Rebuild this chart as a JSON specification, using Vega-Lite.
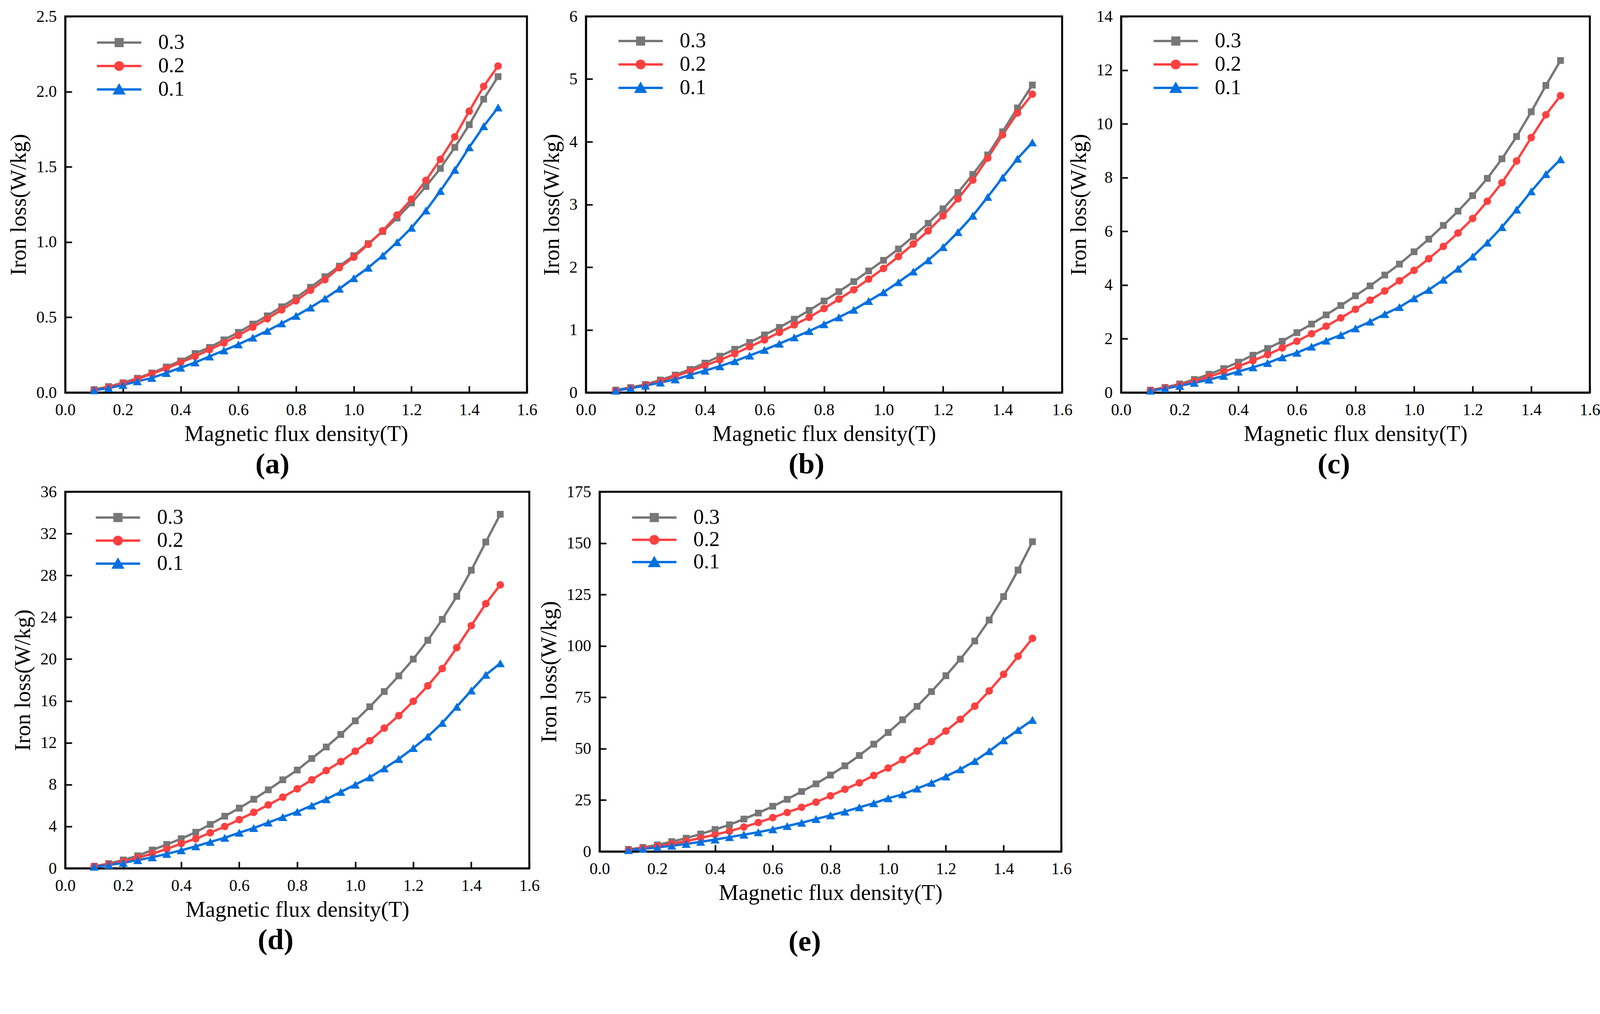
{
  "$schema": "https://vega.github.io/schema/vega-lite/v6.json",
  "background": "white",
  "padding": {"left": 17, "top": 18, "right": 18, "bottom": 20},
  "data": {
    "values": [
      {"panel":"a","series":"0.3","B":0.1,"loss":0.02},{"panel":"a","series":"0.3","B":0.15,"loss":0.04},{"panel":"a","series":"0.3","B":0.2,"loss":0.065},{"panel":"a","series":"0.3","B":0.25,"loss":0.095},{"panel":"a","series":"0.3","B":0.3,"loss":0.13},{"panel":"a","series":"0.3","B":0.35,"loss":0.17},{"panel":"a","series":"0.3","B":0.4,"loss":0.21},{"panel":"a","series":"0.3","B":0.45,"loss":0.26},{"panel":"a","series":"0.3","B":0.5,"loss":0.3},{"panel":"a","series":"0.3","B":0.55,"loss":0.35},{"panel":"a","series":"0.3","B":0.6,"loss":0.4},{"panel":"a","series":"0.3","B":0.65,"loss":0.455},{"panel":"a","series":"0.3","B":0.7,"loss":0.51},{"panel":"a","series":"0.3","B":0.75,"loss":0.57},{"panel":"a","series":"0.3","B":0.8,"loss":0.63},{"panel":"a","series":"0.3","B":0.85,"loss":0.7},{"panel":"a","series":"0.3","B":0.9,"loss":0.77},{"panel":"a","series":"0.3","B":0.95,"loss":0.84},{"panel":"a","series":"0.3","B":1.0,"loss":0.91},{"panel":"a","series":"0.3","B":1.05,"loss":0.99},{"panel":"a","series":"0.3","B":1.1,"loss":1.07},{"panel":"a","series":"0.3","B":1.15,"loss":1.16},{"panel":"a","series":"0.3","B":1.2,"loss":1.26},{"panel":"a","series":"0.3","B":1.25,"loss":1.37},{"panel":"a","series":"0.3","B":1.3,"loss":1.49},{"panel":"a","series":"0.3","B":1.35,"loss":1.63},{"panel":"a","series":"0.3","B":1.4,"loss":1.78},{"panel":"a","series":"0.3","B":1.45,"loss":1.95},{"panel":"a","series":"0.3","B":1.5,"loss":2.1},
      {"panel":"a","series":"0.2","B":0.1,"loss":0.015},{"panel":"a","series":"0.2","B":0.15,"loss":0.035},{"panel":"a","series":"0.2","B":0.2,"loss":0.06},{"panel":"a","series":"0.2","B":0.25,"loss":0.09},{"panel":"a","series":"0.2","B":0.3,"loss":0.125},{"panel":"a","series":"0.2","B":0.35,"loss":0.16},{"panel":"a","series":"0.2","B":0.4,"loss":0.2},{"panel":"a","series":"0.2","B":0.45,"loss":0.24},{"panel":"a","series":"0.2","B":0.5,"loss":0.285},{"panel":"a","series":"0.2","B":0.55,"loss":0.33},{"panel":"a","series":"0.2","B":0.6,"loss":0.38},{"panel":"a","series":"0.2","B":0.65,"loss":0.435},{"panel":"a","series":"0.2","B":0.7,"loss":0.49},{"panel":"a","series":"0.2","B":0.75,"loss":0.55},{"panel":"a","series":"0.2","B":0.8,"loss":0.61},{"panel":"a","series":"0.2","B":0.85,"loss":0.68},{"panel":"a","series":"0.2","B":0.9,"loss":0.75},{"panel":"a","series":"0.2","B":0.95,"loss":0.83},{"panel":"a","series":"0.2","B":1.0,"loss":0.9},{"panel":"a","series":"0.2","B":1.05,"loss":0.985},{"panel":"a","series":"0.2","B":1.1,"loss":1.075},{"panel":"a","series":"0.2","B":1.15,"loss":1.18},{"panel":"a","series":"0.2","B":1.2,"loss":1.285},{"panel":"a","series":"0.2","B":1.25,"loss":1.41},{"panel":"a","series":"0.2","B":1.3,"loss":1.55},{"panel":"a","series":"0.2","B":1.35,"loss":1.7},{"panel":"a","series":"0.2","B":1.4,"loss":1.87},{"panel":"a","series":"0.2","B":1.45,"loss":2.035},{"panel":"a","series":"0.2","B":1.5,"loss":2.17},
      {"panel":"a","series":"0.1","B":0.1,"loss":0.015},{"panel":"a","series":"0.1","B":0.15,"loss":0.03},{"panel":"a","series":"0.1","B":0.2,"loss":0.05},{"panel":"a","series":"0.1","B":0.25,"loss":0.075},{"panel":"a","series":"0.1","B":0.3,"loss":0.097},{"panel":"a","series":"0.1","B":0.35,"loss":0.13},{"panel":"a","series":"0.1","B":0.4,"loss":0.165},{"panel":"a","series":"0.1","B":0.45,"loss":0.2},{"panel":"a","series":"0.1","B":0.5,"loss":0.24},{"panel":"a","series":"0.1","B":0.55,"loss":0.28},{"panel":"a","series":"0.1","B":0.6,"loss":0.32},{"panel":"a","series":"0.1","B":0.65,"loss":0.365},{"panel":"a","series":"0.1","B":0.7,"loss":0.41},{"panel":"a","series":"0.1","B":0.75,"loss":0.46},{"panel":"a","series":"0.1","B":0.8,"loss":0.51},{"panel":"a","series":"0.1","B":0.85,"loss":0.565},{"panel":"a","series":"0.1","B":0.9,"loss":0.625},{"panel":"a","series":"0.1","B":0.95,"loss":0.69},{"panel":"a","series":"0.1","B":1.0,"loss":0.76},{"panel":"a","series":"0.1","B":1.05,"loss":0.83},{"panel":"a","series":"0.1","B":1.1,"loss":0.91},{"panel":"a","series":"0.1","B":1.15,"loss":1.0},{"panel":"a","series":"0.1","B":1.2,"loss":1.095},{"panel":"a","series":"0.1","B":1.25,"loss":1.21},{"panel":"a","series":"0.1","B":1.3,"loss":1.34},{"panel":"a","series":"0.1","B":1.35,"loss":1.48},{"panel":"a","series":"0.1","B":1.4,"loss":1.63},{"panel":"a","series":"0.1","B":1.45,"loss":1.77},{"panel":"a","series":"0.1","B":1.5,"loss":1.895},
      {"panel":"b","series":"0.3","B":0.1,"loss":0.04},{"panel":"b","series":"0.3","B":0.15,"loss":0.08},{"panel":"b","series":"0.3","B":0.2,"loss":0.13},{"panel":"b","series":"0.3","B":0.25,"loss":0.2},{"panel":"b","series":"0.3","B":0.3,"loss":0.28},{"panel":"b","series":"0.3","B":0.35,"loss":0.37},{"panel":"b","series":"0.3","B":0.4,"loss":0.47},{"panel":"b","series":"0.3","B":0.45,"loss":0.58},{"panel":"b","series":"0.3","B":0.5,"loss":0.69},{"panel":"b","series":"0.3","B":0.55,"loss":0.8},{"panel":"b","series":"0.3","B":0.6,"loss":0.92},{"panel":"b","series":"0.3","B":0.65,"loss":1.04},{"panel":"b","series":"0.3","B":0.7,"loss":1.17},{"panel":"b","series":"0.3","B":0.75,"loss":1.31},{"panel":"b","series":"0.3","B":0.8,"loss":1.46},{"panel":"b","series":"0.3","B":0.85,"loss":1.61},{"panel":"b","series":"0.3","B":0.9,"loss":1.77},{"panel":"b","series":"0.3","B":0.95,"loss":1.94},{"panel":"b","series":"0.3","B":1.0,"loss":2.11},{"panel":"b","series":"0.3","B":1.05,"loss":2.29},{"panel":"b","series":"0.3","B":1.1,"loss":2.49},{"panel":"b","series":"0.3","B":1.15,"loss":2.7},{"panel":"b","series":"0.3","B":1.2,"loss":2.93},{"panel":"b","series":"0.3","B":1.25,"loss":3.19},{"panel":"b","series":"0.3","B":1.3,"loss":3.48},{"panel":"b","series":"0.3","B":1.35,"loss":3.79},{"panel":"b","series":"0.3","B":1.4,"loss":4.16},{"panel":"b","series":"0.3","B":1.45,"loss":4.54},{"panel":"b","series":"0.3","B":1.5,"loss":4.905},
      {"panel":"b","series":"0.2","B":0.1,"loss":0.03},{"panel":"b","series":"0.2","B":0.15,"loss":0.07},{"panel":"b","series":"0.2","B":0.2,"loss":0.12},{"panel":"b","series":"0.2","B":0.25,"loss":0.18},{"panel":"b","series":"0.2","B":0.3,"loss":0.26},{"panel":"b","series":"0.2","B":0.35,"loss":0.34},{"panel":"b","series":"0.2","B":0.4,"loss":0.43},{"panel":"b","series":"0.2","B":0.45,"loss":0.52},{"panel":"b","series":"0.2","B":0.5,"loss":0.62},{"panel":"b","series":"0.2","B":0.55,"loss":0.73},{"panel":"b","series":"0.2","B":0.6,"loss":0.84},{"panel":"b","series":"0.2","B":0.65,"loss":0.96},{"panel":"b","series":"0.2","B":0.7,"loss":1.08},{"panel":"b","series":"0.2","B":0.75,"loss":1.2},{"panel":"b","series":"0.2","B":0.8,"loss":1.34},{"panel":"b","series":"0.2","B":0.85,"loss":1.49},{"panel":"b","series":"0.2","B":0.9,"loss":1.64},{"panel":"b","series":"0.2","B":0.95,"loss":1.81},{"panel":"b","series":"0.2","B":1.0,"loss":1.98},{"panel":"b","series":"0.2","B":1.05,"loss":2.17},{"panel":"b","series":"0.2","B":1.1,"loss":2.37},{"panel":"b","series":"0.2","B":1.15,"loss":2.58},{"panel":"b","series":"0.2","B":1.2,"loss":2.82},{"panel":"b","series":"0.2","B":1.25,"loss":3.09},{"panel":"b","series":"0.2","B":1.3,"loss":3.39},{"panel":"b","series":"0.2","B":1.35,"loss":3.74},{"panel":"b","series":"0.2","B":1.4,"loss":4.11},{"panel":"b","series":"0.2","B":1.45,"loss":4.46},{"panel":"b","series":"0.2","B":1.5,"loss":4.76},
      {"panel":"b","series":"0.1","B":0.1,"loss":0.03},{"panel":"b","series":"0.1","B":0.15,"loss":0.07},{"panel":"b","series":"0.1","B":0.2,"loss":0.11},{"panel":"b","series":"0.1","B":0.25,"loss":0.16},{"panel":"b","series":"0.1","B":0.3,"loss":0.21},{"panel":"b","series":"0.1","B":0.35,"loss":0.28},{"panel":"b","series":"0.1","B":0.4,"loss":0.35},{"panel":"b","series":"0.1","B":0.45,"loss":0.42},{"panel":"b","series":"0.1","B":0.5,"loss":0.5},{"panel":"b","series":"0.1","B":0.55,"loss":0.59},{"panel":"b","series":"0.1","B":0.6,"loss":0.68},{"panel":"b","series":"0.1","B":0.65,"loss":0.78},{"panel":"b","series":"0.1","B":0.7,"loss":0.88},{"panel":"b","series":"0.1","B":0.75,"loss":0.98},{"panel":"b","series":"0.1","B":0.8,"loss":1.09},{"panel":"b","series":"0.1","B":0.85,"loss":1.2},{"panel":"b","series":"0.1","B":0.9,"loss":1.32},{"panel":"b","series":"0.1","B":0.95,"loss":1.46},{"panel":"b","series":"0.1","B":1.0,"loss":1.6},{"panel":"b","series":"0.1","B":1.05,"loss":1.76},{"panel":"b","series":"0.1","B":1.1,"loss":1.93},{"panel":"b","series":"0.1","B":1.15,"loss":2.11},{"panel":"b","series":"0.1","B":1.2,"loss":2.32},{"panel":"b","series":"0.1","B":1.25,"loss":2.56},{"panel":"b","series":"0.1","B":1.3,"loss":2.82},{"panel":"b","series":"0.1","B":1.35,"loss":3.12},{"panel":"b","series":"0.1","B":1.4,"loss":3.43},{"panel":"b","series":"0.1","B":1.45,"loss":3.73},{"panel":"b","series":"0.1","B":1.5,"loss":3.99},
      {"panel":"c","series":"0.3","B":0.1,"loss":0.09},{"panel":"c","series":"0.3","B":0.15,"loss":0.19},{"panel":"c","series":"0.3","B":0.2,"loss":0.32},{"panel":"c","series":"0.3","B":0.25,"loss":0.49},{"panel":"c","series":"0.3","B":0.3,"loss":0.68},{"panel":"c","series":"0.3","B":0.35,"loss":0.89},{"panel":"c","series":"0.3","B":0.4,"loss":1.13},{"panel":"c","series":"0.3","B":0.45,"loss":1.39},{"panel":"c","series":"0.3","B":0.5,"loss":1.64},{"panel":"c","series":"0.3","B":0.55,"loss":1.91},{"panel":"c","series":"0.3","B":0.6,"loss":2.23},{"panel":"c","series":"0.3","B":0.65,"loss":2.55},{"panel":"c","series":"0.3","B":0.7,"loss":2.89},{"panel":"c","series":"0.3","B":0.75,"loss":3.24},{"panel":"c","series":"0.3","B":0.8,"loss":3.6},{"panel":"c","series":"0.3","B":0.85,"loss":3.97},{"panel":"c","series":"0.3","B":0.9,"loss":4.375},{"panel":"c","series":"0.3","B":0.95,"loss":4.78},{"panel":"c","series":"0.3","B":1.0,"loss":5.24},{"panel":"c","series":"0.3","B":1.05,"loss":5.71},{"panel":"c","series":"0.3","B":1.1,"loss":6.22},{"panel":"c","series":"0.3","B":1.15,"loss":6.75},{"panel":"c","series":"0.3","B":1.2,"loss":7.33},{"panel":"c","series":"0.3","B":1.25,"loss":7.97},{"panel":"c","series":"0.3","B":1.3,"loss":8.7},{"panel":"c","series":"0.3","B":1.35,"loss":9.53},{"panel":"c","series":"0.3","B":1.4,"loss":10.45},{"panel":"c","series":"0.3","B":1.45,"loss":11.43},{"panel":"c","series":"0.3","B":1.5,"loss":12.36},
      {"panel":"c","series":"0.2","B":0.1,"loss":0.08},{"panel":"c","series":"0.2","B":0.15,"loss":0.17},{"panel":"c","series":"0.2","B":0.2,"loss":0.28},{"panel":"c","series":"0.2","B":0.25,"loss":0.42},{"panel":"c","series":"0.2","B":0.3,"loss":0.59},{"panel":"c","series":"0.2","B":0.35,"loss":0.77},{"panel":"c","series":"0.2","B":0.4,"loss":0.97},{"panel":"c","series":"0.2","B":0.45,"loss":1.19},{"panel":"c","series":"0.2","B":0.5,"loss":1.41},{"panel":"c","series":"0.2","B":0.55,"loss":1.66},{"panel":"c","series":"0.2","B":0.6,"loss":1.91},{"panel":"c","series":"0.2","B":0.65,"loss":2.19},{"panel":"c","series":"0.2","B":0.7,"loss":2.47},{"panel":"c","series":"0.2","B":0.75,"loss":2.78},{"panel":"c","series":"0.2","B":0.8,"loss":3.1},{"panel":"c","series":"0.2","B":0.85,"loss":3.44},{"panel":"c","series":"0.2","B":0.9,"loss":3.78},{"panel":"c","series":"0.2","B":0.95,"loss":4.16},{"panel":"c","series":"0.2","B":1.0,"loss":4.55},{"panel":"c","series":"0.2","B":1.05,"loss":4.98},{"panel":"c","series":"0.2","B":1.1,"loss":5.44},{"panel":"c","series":"0.2","B":1.15,"loss":5.94},{"panel":"c","series":"0.2","B":1.2,"loss":6.48},{"panel":"c","series":"0.2","B":1.25,"loss":7.12},{"panel":"c","series":"0.2","B":1.3,"loss":7.81},{"panel":"c","series":"0.2","B":1.35,"loss":8.62},{"panel":"c","series":"0.2","B":1.4,"loss":9.49},{"panel":"c","series":"0.2","B":1.45,"loss":10.34},{"panel":"c","series":"0.2","B":1.5,"loss":11.05},
      {"panel":"c","series":"0.1","B":0.1,"loss":0.07},{"panel":"c","series":"0.1","B":0.15,"loss":0.15},{"panel":"c","series":"0.1","B":0.2,"loss":0.25},{"panel":"c","series":"0.1","B":0.25,"loss":0.36},{"panel":"c","series":"0.1","B":0.3,"loss":0.48},{"panel":"c","series":"0.1","B":0.35,"loss":0.62},{"panel":"c","series":"0.1","B":0.4,"loss":0.78},{"panel":"c","series":"0.1","B":0.45,"loss":0.94},{"panel":"c","series":"0.1","B":0.5,"loss":1.1},{"panel":"c","series":"0.1","B":0.55,"loss":1.31},{"panel":"c","series":"0.1","B":0.6,"loss":1.48},{"panel":"c","series":"0.1","B":0.65,"loss":1.71},{"panel":"c","series":"0.1","B":0.7,"loss":1.93},{"panel":"c","series":"0.1","B":0.75,"loss":2.14},{"panel":"c","series":"0.1","B":0.8,"loss":2.39},{"panel":"c","series":"0.1","B":0.85,"loss":2.64},{"panel":"c","series":"0.1","B":0.9,"loss":2.92},{"panel":"c","series":"0.1","B":0.95,"loss":3.18},{"panel":"c","series":"0.1","B":1.0,"loss":3.51},{"panel":"c","series":"0.1","B":1.05,"loss":3.82},{"panel":"c","series":"0.1","B":1.1,"loss":4.2},{"panel":"c","series":"0.1","B":1.15,"loss":4.61},{"panel":"c","series":"0.1","B":1.2,"loss":5.06},{"panel":"c","series":"0.1","B":1.25,"loss":5.58},{"panel":"c","series":"0.1","B":1.3,"loss":6.16},{"panel":"c","series":"0.1","B":1.35,"loss":6.81},{"panel":"c","series":"0.1","B":1.4,"loss":7.49},{"panel":"c","series":"0.1","B":1.45,"loss":8.13},{"panel":"c","series":"0.1","B":1.5,"loss":8.68},
      {"panel":"d","series":"0.3","B":0.1,"loss":0.2},{"panel":"d","series":"0.3","B":0.15,"loss":0.45},{"panel":"d","series":"0.3","B":0.2,"loss":0.8},{"panel":"d","series":"0.3","B":0.25,"loss":1.2},{"panel":"d","series":"0.3","B":0.3,"loss":1.75},{"panel":"d","series":"0.3","B":0.35,"loss":2.28},{"panel":"d","series":"0.3","B":0.4,"loss":2.83},{"panel":"d","series":"0.3","B":0.45,"loss":3.45},{"panel":"d","series":"0.3","B":0.5,"loss":4.2},{"panel":"d","series":"0.3","B":0.55,"loss":4.98},{"panel":"d","series":"0.3","B":0.6,"loss":5.75},{"panel":"d","series":"0.3","B":0.65,"loss":6.6},{"panel":"d","series":"0.3","B":0.7,"loss":7.5},{"panel":"d","series":"0.3","B":0.75,"loss":8.46},{"panel":"d","series":"0.3","B":0.8,"loss":9.4},{"panel":"d","series":"0.3","B":0.85,"loss":10.5},{"panel":"d","series":"0.3","B":0.9,"loss":11.6},{"panel":"d","series":"0.3","B":0.95,"loss":12.8},{"panel":"d","series":"0.3","B":1.0,"loss":14.1},{"panel":"d","series":"0.3","B":1.05,"loss":15.45},{"panel":"d","series":"0.3","B":1.1,"loss":16.9},{"panel":"d","series":"0.3","B":1.15,"loss":18.4},{"panel":"d","series":"0.3","B":1.2,"loss":20.0},{"panel":"d","series":"0.3","B":1.25,"loss":21.8},{"panel":"d","series":"0.3","B":1.3,"loss":23.8},{"panel":"d","series":"0.3","B":1.35,"loss":26.0},{"panel":"d","series":"0.3","B":1.4,"loss":28.5},{"panel":"d","series":"0.3","B":1.45,"loss":31.2},{"panel":"d","series":"0.3","B":1.5,"loss":33.85},
      {"panel":"d","series":"0.2","B":0.1,"loss":0.18},{"panel":"d","series":"0.2","B":0.15,"loss":0.38},{"panel":"d","series":"0.2","B":0.2,"loss":0.65},{"panel":"d","series":"0.2","B":0.25,"loss":1.0},{"panel":"d","series":"0.2","B":0.3,"loss":1.4},{"panel":"d","series":"0.2","B":0.35,"loss":1.85},{"panel":"d","series":"0.2","B":0.4,"loss":2.37},{"panel":"d","series":"0.2","B":0.45,"loss":2.83},{"panel":"d","series":"0.2","B":0.5,"loss":3.4},{"panel":"d","series":"0.2","B":0.55,"loss":4.0},{"panel":"d","series":"0.2","B":0.6,"loss":4.65},{"panel":"d","series":"0.2","B":0.65,"loss":5.35},{"panel":"d","series":"0.2","B":0.7,"loss":6.06},{"panel":"d","series":"0.2","B":0.75,"loss":6.8},{"panel":"d","series":"0.2","B":0.8,"loss":7.6},{"panel":"d","series":"0.2","B":0.85,"loss":8.46},{"panel":"d","series":"0.2","B":0.9,"loss":9.35},{"panel":"d","series":"0.2","B":0.95,"loss":10.2},{"panel":"d","series":"0.2","B":1.0,"loss":11.2},{"panel":"d","series":"0.2","B":1.05,"loss":12.2},{"panel":"d","series":"0.2","B":1.1,"loss":13.4},{"panel":"d","series":"0.2","B":1.15,"loss":14.6},{"panel":"d","series":"0.2","B":1.2,"loss":15.97},{"panel":"d","series":"0.2","B":1.25,"loss":17.45},{"panel":"d","series":"0.2","B":1.3,"loss":19.1},{"panel":"d","series":"0.2","B":1.35,"loss":21.1},{"panel":"d","series":"0.2","B":1.4,"loss":23.2},{"panel":"d","series":"0.2","B":1.45,"loss":25.3},{"panel":"d","series":"0.2","B":1.5,"loss":27.1},
      {"panel":"d","series":"0.1","B":0.1,"loss":0.15},{"panel":"d","series":"0.1","B":0.15,"loss":0.32},{"panel":"d","series":"0.1","B":0.2,"loss":0.52},{"panel":"d","series":"0.1","B":0.25,"loss":0.78},{"panel":"d","series":"0.1","B":0.3,"loss":1.05},{"panel":"d","series":"0.1","B":0.35,"loss":1.38},{"panel":"d","series":"0.1","B":0.4,"loss":1.72},{"panel":"d","series":"0.1","B":0.45,"loss":2.1},{"panel":"d","series":"0.1","B":0.5,"loss":2.52},{"panel":"d","series":"0.1","B":0.55,"loss":2.92},{"panel":"d","series":"0.1","B":0.6,"loss":3.4},{"panel":"d","series":"0.1","B":0.65,"loss":3.85},{"panel":"d","series":"0.1","B":0.7,"loss":4.37},{"panel":"d","series":"0.1","B":0.75,"loss":4.9},{"panel":"d","series":"0.1","B":0.8,"loss":5.4},{"panel":"d","series":"0.1","B":0.85,"loss":6.0},{"panel":"d","series":"0.1","B":0.9,"loss":6.6},{"panel":"d","series":"0.1","B":0.95,"loss":7.3},{"panel":"d","series":"0.1","B":1.0,"loss":8.0},{"panel":"d","series":"0.1","B":1.05,"loss":8.7},{"panel":"d","series":"0.1","B":1.1,"loss":9.55},{"panel":"d","series":"0.1","B":1.15,"loss":10.45},{"panel":"d","series":"0.1","B":1.2,"loss":11.5},{"panel":"d","series":"0.1","B":1.25,"loss":12.6},{"panel":"d","series":"0.1","B":1.3,"loss":13.9},{"panel":"d","series":"0.1","B":1.35,"loss":15.45},{"panel":"d","series":"0.1","B":1.4,"loss":17.0},{"panel":"d","series":"0.1","B":1.45,"loss":18.5},{"panel":"d","series":"0.1","B":1.5,"loss":19.6},
      {"panel":"e","series":"0.3","B":0.1,"loss":1.0},{"panel":"e","series":"0.3","B":0.15,"loss":2.0},{"panel":"e","series":"0.3","B":0.2,"loss":3.2},{"panel":"e","series":"0.3","B":0.25,"loss":4.8},{"panel":"e","series":"0.3","B":0.3,"loss":6.5},{"panel":"e","series":"0.3","B":0.35,"loss":8.5},{"panel":"e","series":"0.3","B":0.4,"loss":10.7},{"panel":"e","series":"0.3","B":0.45,"loss":13.0},{"panel":"e","series":"0.3","B":0.5,"loss":15.8},{"panel":"e","series":"0.3","B":0.55,"loss":18.7},{"panel":"e","series":"0.3","B":0.6,"loss":22.0},{"panel":"e","series":"0.3","B":0.65,"loss":25.4},{"panel":"e","series":"0.3","B":0.7,"loss":29.2},{"panel":"e","series":"0.3","B":0.75,"loss":32.9},{"panel":"e","series":"0.3","B":0.8,"loss":37.2},{"panel":"e","series":"0.3","B":0.85,"loss":41.7},{"panel":"e","series":"0.3","B":0.9,"loss":46.7},{"panel":"e","series":"0.3","B":0.95,"loss":52.2},{"panel":"e","series":"0.3","B":1.0,"loss":57.9},{"panel":"e","series":"0.3","B":1.05,"loss":64.1},{"panel":"e","series":"0.3","B":1.1,"loss":70.6},{"panel":"e","series":"0.3","B":1.15,"loss":77.8},{"panel":"e","series":"0.3","B":1.2,"loss":85.5},{"panel":"e","series":"0.3","B":1.25,"loss":93.6},{"panel":"e","series":"0.3","B":1.3,"loss":102.4},{"panel":"e","series":"0.3","B":1.35,"loss":112.6},{"panel":"e","series":"0.3","B":1.4,"loss":124.0},{"panel":"e","series":"0.3","B":1.45,"loss":136.9},{"panel":"e","series":"0.3","B":1.5,"loss":150.7},
      {"panel":"e","series":"0.2","B":0.1,"loss":0.8},{"panel":"e","series":"0.2","B":0.15,"loss":1.6},{"panel":"e","series":"0.2","B":0.2,"loss":2.5},{"panel":"e","series":"0.2","B":0.25,"loss":3.7},{"panel":"e","series":"0.2","B":0.3,"loss":5.0},{"panel":"e","series":"0.2","B":0.35,"loss":6.6},{"panel":"e","series":"0.2","B":0.4,"loss":8.2},{"panel":"e","series":"0.2","B":0.45,"loss":9.9},{"panel":"e","series":"0.2","B":0.5,"loss":11.9},{"panel":"e","series":"0.2","B":0.55,"loss":14.1},{"panel":"e","series":"0.2","B":0.6,"loss":16.5},{"panel":"e","series":"0.2","B":0.65,"loss":19.0},{"panel":"e","series":"0.2","B":0.7,"loss":21.5},{"panel":"e","series":"0.2","B":0.75,"loss":24.0},{"panel":"e","series":"0.2","B":0.8,"loss":27.1},{"panel":"e","series":"0.2","B":0.85,"loss":30.3},{"panel":"e","series":"0.2","B":0.9,"loss":33.4},{"panel":"e","series":"0.2","B":0.95,"loss":37.0},{"panel":"e","series":"0.2","B":1.0,"loss":40.6},{"panel":"e","series":"0.2","B":1.05,"loss":44.7},{"panel":"e","series":"0.2","B":1.1,"loss":48.9},{"panel":"e","series":"0.2","B":1.15,"loss":53.5},{"panel":"e","series":"0.2","B":1.2,"loss":58.6},{"panel":"e","series":"0.2","B":1.25,"loss":64.3},{"panel":"e","series":"0.2","B":1.3,"loss":70.7},{"panel":"e","series":"0.2","B":1.35,"loss":78.1},{"panel":"e","series":"0.2","B":1.4,"loss":86.2},{"panel":"e","series":"0.2","B":1.45,"loss":95.0},{"panel":"e","series":"0.2","B":1.5,"loss":103.7},
      {"panel":"e","series":"0.1","B":0.1,"loss":0.7},{"panel":"e","series":"0.1","B":0.15,"loss":1.3},{"panel":"e","series":"0.1","B":0.2,"loss":2.0},{"panel":"e","series":"0.1","B":0.25,"loss":2.8},{"panel":"e","series":"0.1","B":0.3,"loss":3.7},{"panel":"e","series":"0.1","B":0.35,"loss":4.7},{"panel":"e","series":"0.1","B":0.4,"loss":5.8},{"panel":"e","series":"0.1","B":0.45,"loss":7.0},{"panel":"e","series":"0.1","B":0.5,"loss":8.2},{"panel":"e","series":"0.1","B":0.55,"loss":9.4},{"panel":"e","series":"0.1","B":0.6,"loss":10.8},{"panel":"e","series":"0.1","B":0.65,"loss":12.4},{"panel":"e","series":"0.1","B":0.7,"loss":14.0},{"panel":"e","series":"0.1","B":0.75,"loss":15.8},{"panel":"e","series":"0.1","B":0.8,"loss":17.6},{"panel":"e","series":"0.1","B":0.85,"loss":19.4},{"panel":"e","series":"0.1","B":0.9,"loss":21.5},{"panel":"e","series":"0.1","B":0.95,"loss":23.5},{"panel":"e","series":"0.1","B":1.0,"loss":25.9},{"panel":"e","series":"0.1","B":1.05,"loss":27.8},{"panel":"e","series":"0.1","B":1.1,"loss":30.6},{"panel":"e","series":"0.1","B":1.15,"loss":33.4},{"panel":"e","series":"0.1","B":1.2,"loss":36.5},{"panel":"e","series":"0.1","B":1.25,"loss":40.0},{"panel":"e","series":"0.1","B":1.3,"loss":44.0},{"panel":"e","series":"0.1","B":1.35,"loss":48.8},{"panel":"e","series":"0.1","B":1.4,"loss":54.1},{"panel":"e","series":"0.1","B":1.45,"loss":59.1},{"panel":"e","series":"0.1","B":1.5,"loss":64.0}
    ]
  },
  "concat": [
    {
      "hconcat": [
        {
          "width": 1182,
          "height": 963,
          "title": {"text": "(a)", "offset": 14},
          "transform": [{"filter": "datum.panel === 'a'"}],
          "encoding": {
            "x": {"field": "B", "type": "quantitative", "scale": {"domain": [0, 1.6], "nice": false, "zero": false}, "axis": {"values": [0, 0.2, 0.4, 0.6, 0.8, 1.0, 1.2, 1.4, 1.6], "format": ".1f", "title": "Magnetic flux density(T)"}},
            "y": {"field": "loss", "type": "quantitative", "scale": {"domain": [0, 2.5], "nice": false}, "axis": {"values": [0, 0.5, 1.0, 1.5, 2.0, 2.5], "format": ".1f", "title": "Iron loss(W/kg)"}},
            "color": {"field": "series", "type": "nominal", "scale": {"domain": ["0.3", "0.2", "0.1"], "range": ["#777777", "#FF4040", "#0070E0"]}, "legend": {"title": null, "legendX": 111, "legendY": 40}}
          },
          "layer": [
            {"mark": {"type": "line", "strokeWidth": 6}},
            {
              "mark": {"type": "point", "filled": true, "opacity": 1, "strokeWidth": 0, "size": 370},
              "encoding": {
                "shape": {"field": "series", "type": "nominal", "scale": {"domain": ["0.3", "0.2", "0.1"], "range": ["M-5.9,0H5.9M-0.9,-0.9H0.9V0.9H-0.9Z", "M-5.9,0H5.9M-1,0A1,1,0,1,0,1,0A1,1,0,1,0,-1,0Z", "M-5.9,0H5.9M0,-1.05L1.2,1.05L-1.2,1.05Z"]}, "legend": {"title": null, "legendX": 111, "legendY": 40}}
              }
            }
          ]
        },
        {
          "width": 1219,
          "height": 963,
          "title": {"text": "(b)", "offset": 14},
          "transform": [{"filter": "datum.panel === 'b'"}],
          "encoding": {
            "x": {"field": "B", "type": "quantitative", "scale": {"domain": [0, 1.6], "nice": false, "zero": false}, "axis": {"values": [0, 0.2, 0.4, 0.6, 0.8, 1.0, 1.2, 1.4, 1.6], "format": ".1f", "title": "Magnetic flux density(T)"}},
            "y": {"field": "loss", "type": "quantitative", "scale": {"domain": [0, 6], "nice": false}, "axis": {"values": [0, 1, 2, 3, 4, 5, 6], "format": "d", "title": "Iron loss(W/kg)"}},
            "color": {"field": "series", "type": "nominal", "scale": {"domain": ["0.3", "0.2", "0.1"], "range": ["#777777", "#FF4040", "#0070E0"]}, "legend": {"title": null, "legendX": 113, "legendY": 36}}
          },
          "layer": [
            {"mark": {"type": "line", "strokeWidth": 6}},
            {
              "mark": {"type": "point", "filled": true, "opacity": 1, "strokeWidth": 0, "size": 370},
              "encoding": {
                "shape": {"field": "series", "type": "nominal", "scale": {"domain": ["0.3", "0.2", "0.1"], "range": ["M-5.9,0H5.9M-0.9,-0.9H0.9V0.9H-0.9Z", "M-5.9,0H5.9M-1,0A1,1,0,1,0,1,0A1,1,0,1,0,-1,0Z", "M-5.9,0H5.9M0,-1.05L1.2,1.05L-1.2,1.05Z"]}, "legend": {"title": null, "legendX": 113, "legendY": 36}}
              }
            }
          ]
        },
        {
          "width": 1200,
          "height": 963,
          "title": {"text": "(c)", "offset": 14},
          "transform": [{"filter": "datum.panel === 'c'"}],
          "encoding": {
            "x": {"field": "B", "type": "quantitative", "scale": {"domain": [0, 1.6], "nice": false, "zero": false}, "axis": {"values": [0, 0.2, 0.4, 0.6, 0.8, 1.0, 1.2, 1.4, 1.6], "format": ".1f", "title": "Magnetic flux density(T)"}},
            "y": {"field": "loss", "type": "quantitative", "scale": {"domain": [0, 14], "nice": false}, "axis": {"values": [0, 2, 4, 6, 8, 10, 12, 14], "format": "d", "title": "Iron loss(W/kg)"}},
            "color": {"field": "series", "type": "nominal", "scale": {"domain": ["0.3", "0.2", "0.1"], "range": ["#777777", "#FF4040", "#0070E0"]}, "legend": {"title": null, "legendX": 113, "legendY": 36}}
          },
          "layer": [
            {"mark": {"type": "line", "strokeWidth": 6}},
            {
              "mark": {"type": "point", "filled": true, "opacity": 1, "strokeWidth": 0, "size": 370},
              "encoding": {
                "shape": {"field": "series", "type": "nominal", "scale": {"domain": ["0.3", "0.2", "0.1"], "range": ["M-5.9,0H5.9M-0.9,-0.9H0.9V0.9H-0.9Z", "M-5.9,0H5.9M-1,0A1,1,0,1,0,1,0A1,1,0,1,0,-1,0Z", "M-5.9,0H5.9M0,-1.05L1.2,1.05L-1.2,1.05Z"]}, "legend": {"title": null, "legendX": 113, "legendY": 36}}
              }
            }
          ]
        }
      ],
      "spacing": 151,
      "bounds": "flush",
      "resolve": {"scale": {"x": "independent", "y": "independent", "color": "independent", "shape": "independent"}, "legend": {"color": "independent", "shape": "independent"}}
    },
    {
      "hconcat": [
        {
          "width": 1188,
          "height": 964,
          "title": {"text": "(d)", "offset": 14},
          "transform": [{"filter": "datum.panel === 'd'"}],
          "encoding": {
            "x": {"field": "B", "type": "quantitative", "scale": {"domain": [0, 1.6], "nice": false, "zero": false}, "axis": {"values": [0, 0.2, 0.4, 0.6, 0.8, 1.0, 1.2, 1.4, 1.6], "format": ".1f", "title": "Magnetic flux density(T)"}},
            "y": {"field": "loss", "type": "quantitative", "scale": {"domain": [0, 36], "nice": false}, "axis": {"values": [0, 4, 8, 12, 16, 20, 24, 28, 32, 36], "format": "d", "title": "Iron loss(W/kg)"}},
            "color": {"field": "series", "type": "nominal", "scale": {"domain": ["0.3", "0.2", "0.1"], "range": ["#777777", "#FF4040", "#0070E0"]}, "legend": {"title": null, "legendX": 108, "legendY": 39, "rowPadding": 5}}
          },
          "layer": [
            {"mark": {"type": "line", "strokeWidth": 6}},
            {
              "mark": {"type": "point", "filled": true, "opacity": 1, "strokeWidth": 0, "size": 370},
              "encoding": {
                "shape": {"field": "series", "type": "nominal", "scale": {"domain": ["0.3", "0.2", "0.1"], "range": ["M-5.9,0H5.9M-0.9,-0.9H0.9V0.9H-0.9Z", "M-5.9,0H5.9M-1,0A1,1,0,1,0,1,0A1,1,0,1,0,-1,0Z", "M-5.9,0H5.9M0,-1.05L1.2,1.05L-1.2,1.05Z"]}, "legend": {"title": null, "legendX": 108, "legendY": 39, "rowPadding": 5}}
              }
            }
          ]
        },
        {
          "width": 1182,
          "height": 921,
          "title": {"text": "(e)", "offset": 61},
          "transform": [{"filter": "datum.panel === 'e'"}],
          "encoding": {
            "x": {"field": "B", "type": "quantitative", "scale": {"domain": [0, 1.6], "nice": false, "zero": false}, "axis": {"values": [0, 0.2, 0.4, 0.6, 0.8, 1.0, 1.2, 1.4, 1.6], "format": ".1f", "title": "Magnetic flux density(T)"}},
            "y": {"field": "loss", "type": "quantitative", "scale": {"domain": [0, 175], "nice": false}, "axis": {"values": [0, 25, 50, 75, 100, 125, 150, 175], "format": "d", "title": "Iron loss(W/kg)"}},
            "color": {"field": "series", "type": "nominal", "scale": {"domain": ["0.3", "0.2", "0.1"], "range": ["#777777", "#FF4040", "#0070E0"]}, "legend": {"title": null, "legendX": 113, "legendY": 39, "rowPadding": 3}}
          },
          "layer": [
            {"mark": {"type": "line", "strokeWidth": 6}},
            {
              "mark": {"type": "point", "filled": true, "opacity": 1, "strokeWidth": 0, "size": 370},
              "encoding": {
                "shape": {"field": "series", "type": "nominal", "scale": {"domain": ["0.3", "0.2", "0.1"], "range": ["M-5.9,0H5.9M-0.9,-0.9H0.9V0.9H-0.9Z", "M-5.9,0H5.9M-1,0A1,1,0,1,0,1,0A1,1,0,1,0,-1,0Z", "M-5.9,0H5.9M0,-1.05L1.2,1.05L-1.2,1.05Z"]}, "legend": {"title": null, "legendX": 113, "legendY": 39, "rowPadding": 3}}
              }
            }
          ]
        }
      ],
      "spacing": 180,
      "bounds": "flush",
      "resolve": {"scale": {"x": "independent", "y": "independent", "color": "independent", "shape": "independent"}, "legend": {"color": "independent", "shape": "independent"}}
    }
  ],
  "columns": 1,
  "align": "none",
  "spacing": 5,
  "resolve": {"scale": {"x": "independent", "y": "independent", "color": "independent", "shape": "independent"}, "legend": {"color": "independent", "shape": "independent"}},
  "config": {
    "view": {"stroke": "black", "strokeWidth": 5},
    "axis": {
      "grid": false,
      "domainColor": "black",
      "domainWidth": 5,
      "tickColor": "black",
      "tickWidth": 4,
      "tickSize": -17,
      "labelFont": "Liberation Serif",
      "labelFontSize": 42,
      "labelColor": "black",
      "labelFlush": false,
      "labelOverlap": false,
      "titleFont": "Liberation Serif",
      "titleFontSize": 57,
      "titleFontWeight": "normal",
      "titleColor": "black"
    },
    "axisX": {"labelPadding": 41, "titlePadding": 13},
    "axisY": {"labelPadding": 39, "titlePadding": 15},
    "legend": {
      "orient": "none",
      "padding": 0,
      "labelFont": "Liberation Serif",
      "labelFontSize": 54,
      "labelColor": "black",
      "labelOffset": 73,
      "rowPadding": 6,
      "symbolSize": 370,
      "symbolStrokeWidth": 6,
      "symbolOpacity": 1
    },
    "title": {
      "font": "Liberation Serif",
      "fontSize": 75,
      "fontWeight": "bold",
      "color": "black",
      "orient": "bottom",
      "frame": "bounds",
      "anchor": "middle"
    }
  }
}
